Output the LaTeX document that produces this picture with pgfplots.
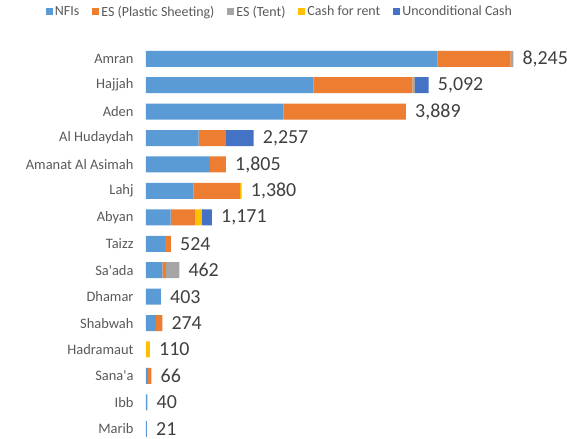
\documentclass[border=0pt]{standalone}
\usepackage{fontspec}
\setmainfont{Carlito}
\usepackage{pgfplots}
\usepackage{pgfplotstable}
\pgfplotsset{compat=1.18}
\definecolor{cNFI}{HTML}{5B9BD5}
\definecolor{cPlastic}{HTML}{ED7D31}
\definecolor{cTent}{HTML}{A5A5A5}
\definecolor{cRent}{HTML}{FFC000}
\definecolor{cUncond}{HTML}{4472C4}
\definecolor{txt}{HTML}{595959}
\definecolor{valtxt}{HTML}{404040}
\newcommand{\lgf}{\fontsize{14}{16}\selectfont}

% bar lengths as drawn; last column = printed total
\pgfplotstableread{
idx nfi  plastic tent rent uncond pad lab
0   5826 1468    52   0    0      1   8,245
1   3346 1980    54   0    274    1   5,092
2   2746 2454    0    0    0      1   3,889
3   1054 546     0    0    554    1   2,257
4   1280 320     0    0    0      1   1,805
5   946  934     0    34   0      1   1,380
6   494  486     0    140  200    1   1,171
7   380  120     0    0    0      1   524
8   326  74      266  0    0      1   462
9   300  0       0    0    0      1   403
10  200  126     0    0    0      1   274
11  0    0       0    80   0      1   110
12  40   70      0    0    0      1   66
13  30   0       0    0    0      1   40
14  20   0       0    0    0      1   21
}\data

\begin{document}
\begin{tikzpicture}
\useasboundingbox (-146bp,-2.3bp) rectangle (421bp,436.7bp);
\begin{axis}[
    xbar stacked,
    scale only axis,
    width=400bp, height=393.8bp,
    xmin=0, xmax=8000,
    ymin=-0.6, ymax=14.3,
    y dir=reverse,
    bar width=16bp,
    axis x line=none,
    axis y line*=left,
    y axis line style={draw=none},
    major tick length=0pt,
    ytick={0,...,14},
    yticklabels={Amran,Hajjah,Aden,Al Hudaydah,Amanat Al Asimah,Lahj,Abyan,Taizz,Sa\textquotesingle ada,Dhamar,Shabwah,Hadramaut,Sana\textquotesingle a,Ibb,Marib},
    yticklabel style={font=\fontsize{14.5}{16}\selectfont, text=txt, anchor=east, xshift=-9bp},
    every axis plot/.append style={draw=none},
    legend columns=-1,
    legend style={draw=none, fill=none, at={(axis description cs:0.335,1.079)}, anchor=center,
        text=txt, inner sep=0pt,
        /tikz/every even column/.append style={column sep=11bp}},
    legend image code/.code={\fill[#1] (0bp,-3.5bp) rectangle (7bp,3.5bp);},
]
\addplot[fill=cNFI] table[x=nfi, y=idx] {\data};
\addlegendentry{\lgf NFIs}
\addplot[fill=cPlastic] table[x=plastic, y=idx] {\data};
\addlegendentry{\lgf ES (Plastic Sheeting)}
\addplot[fill=cTent] table[x=tent, y=idx] {\data};
\addlegendentry{\lgf ES (Tent)}
\addplot[fill=cRent] table[x=rent, y=idx] {\data};
\addlegendentry{\lgf Cash for rent}
\addplot[fill=cUncond] table[x=uncond, y=idx] {\data};
\addlegendentry{\lgf Unconditional Cash}
\addplot[fill=none, nodes near coords, point meta=explicit symbolic,
    nodes near coords style={anchor=west, inner sep=0pt, xshift=9bp, text=valtxt, font=\fontsize{20}{22}\selectfont}]
    table[x=pad, y=idx, meta=lab] {\data};
\end{axis}
\end{tikzpicture}
\end{document}
